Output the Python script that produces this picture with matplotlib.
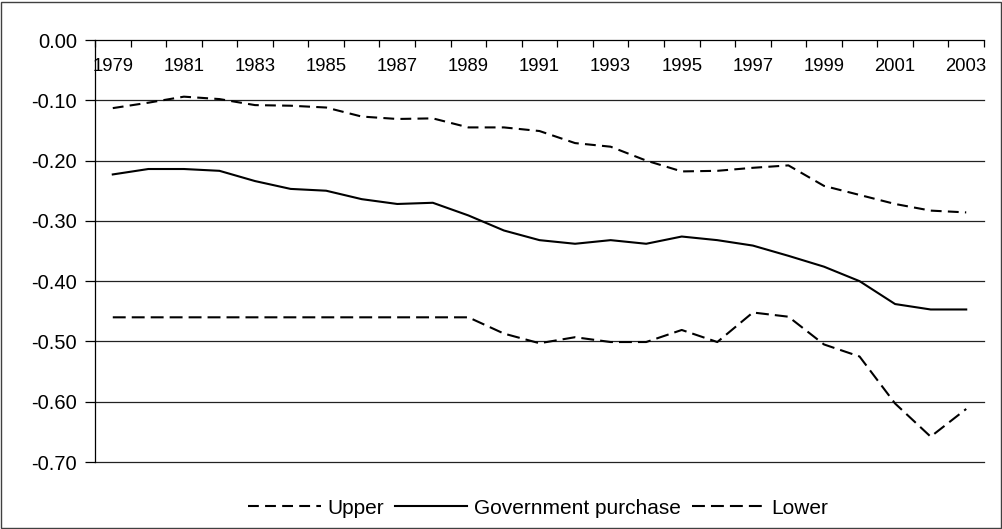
import matplotlib
matplotlib.use("Agg")
import matplotlib.pyplot as plt
from matplotlib.patches import Rectangle

plt.rcParams['font.family'] = ['Liberation Sans', 'DejaVu Sans']
plt.rcParams['axes.unicode_minus'] = False

years = list(range(1979, 2004))
upper = [-0.113, -0.104, -0.094, -0.098, -0.108, -0.109, -0.112, -0.127, -0.131, -0.130,
         -0.145, -0.145, -0.151, -0.171, -0.177, -0.200, -0.218, -0.217, -0.212, -0.208,
         -0.242, -0.257, -0.272, -0.283, -0.286]
gov = [-0.223, -0.214, -0.214, -0.217, -0.234, -0.247, -0.250, -0.264, -0.272, -0.270,
       -0.291, -0.316, -0.332, -0.338, -0.332, -0.338, -0.326, -0.332, -0.341, -0.358,
       -0.376, -0.400, -0.438, -0.447, -0.447]
lower = [-0.460, -0.460, -0.460, -0.460, -0.460, -0.460, -0.460, -0.460, -0.460, -0.460,
         -0.460, -0.487, -0.503, -0.493, -0.501, -0.501, -0.481, -0.501, -0.452, -0.459,
         -0.505, -0.525, -0.603, -0.658, -0.612]
series_names = ["Upper", "Government purchase", "Lower"]
y_ticks = [0.0, -0.1, -0.2, -0.3, -0.4, -0.5, -0.6, -0.7]

W, H = 1003, 529
fig = plt.figure(figsize=(W / 100, H / 100), dpi=100)
fig.patches.append(Rectangle((1 / W, 1 / H), 1 - 3 / W, 1 - 3 / H, transform=fig.transFigure,
                             fill=False, edgecolor='#404040', linewidth=1.0))

ax = fig.add_axes([95 / W, 1 - 462 / H, 889 / W, 422 / H])
x = list(range(len(years)))

l1, = ax.plot(x, upper, color='black', lw=1.5, linestyle=(0, (5.2, 3.0)), label=series_names[0])
l2, = ax.plot(x, gov, color='black', lw=1.5, linestyle='-', label=series_names[1])
l3, = ax.plot(x, lower, color='black', lw=1.5, linestyle=(0, (6.2, 2.9)), label=series_names[2])

ax.set_xlim(-0.5, len(years) - 0.5)
ax.set_ylim(-0.70, 0.0)

ax.set_yticks(y_ticks)
ax.set_yticklabels([f"{v:.2f}" if v != 0 else "0.00" for v in y_ticks], fontsize=14.5)
ax.tick_params(axis='y', direction='out', length=7, width=0.9, pad=6, colors='black')
for v in y_ticks[1:]:
    ax.axhline(v, color='#222222', lw=0.9, zorder=0, clip_on=False)

# x axis at top (value 0)
ax.xaxis.set_ticks_position('top')
ax.set_xticks(x[::2])
ax.set_xticklabels([str(y) for y in years[::2]], fontsize=13.3)
ax.set_xticks([i - 0.5 for i in range(len(years) + 1)], minor=True)
ax.tick_params(axis='x', which='major', length=0, pad=-25, labeltop=True, labelbottom=False)
ax.tick_params(axis='x', which='minor', direction='in', length=5, width=0.9, top=True, bottom=False)

for s in ['right', 'bottom']:
    ax.spines[s].set_visible(False)
ax.spines['left'].set_linewidth(0.9)
ax.spines['top'].set_linewidth(0.9)

fig.legend(handles=[l1, l2, l3], loc='center', bbox_to_anchor=(538 / W, 1 - 508 / H),
           ncol=3, frameon=False, fontsize=15, handlelength=3.5, handletextpad=0.33,
           columnspacing=0.5, borderaxespad=0)

fig.savefig("out.png", dpi=100)
